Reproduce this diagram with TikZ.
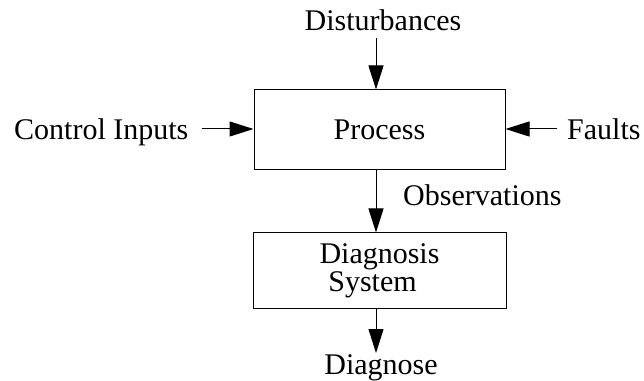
\documentclass[tikz,border=0pt]{standalone}
\usepackage{fontspec}
\setmainfont{Liberation Serif}
\usetikzlibrary{arrows.meta}
\begin{document}
\begin{tikzpicture}[x=1pt,y=1pt,
  every node/.style={font=\fontsize{30}{28}\selectfont, inner sep=0pt},
  blockbox/.style={draw, line width=1pt, align=center},
  flow/.style={line width=1pt, -{Triangle[length=24pt,width=15pt]}},
  lbl/.style={anchor=base}]
\useasboundingbox (0,0) rectangle (644,380);

% blocks
\node[blockbox, minimum width=251, minimum height=80] (proc) at (379.5,250) {Process};
\node[blockbox, minimum width=253, minimum height=75] (diag) at (379.5,109.5)
  {\hspace*{0pt}Diagnosis\\System\hspace*{14pt}};

% external signals
\node[lbl] (dist) at (383,349) {Disturbances};
\node[lbl, anchor=base west] (ctrl) at (14,240) {Control Inputs};
\node[lbl, anchor=base west] (flt) at (567,240) {Faults};
\node[lbl, anchor=base west] (obs) at (403,174) {Observations};
\node[lbl] (dgn) at (381,6) {Diagnose};

\coordinate (dtop) at (376,342);
\coordinate (cin) at (202,251);
\coordinate (fin) at (557,251);
\coordinate (dout) at (376,27);

% connectors
\draw[flow] (dtop) -- (dtop |- proc.north);
\draw[flow] (cin) -- (cin -| proc.west);
\draw[flow] (fin) -- (fin -| proc.east);
\draw[flow] (dtop |- proc.south) -- (dtop |- diag.north);
\draw[flow] (dtop |- diag.south) -- (dout);
\end{tikzpicture}
\end{document}
